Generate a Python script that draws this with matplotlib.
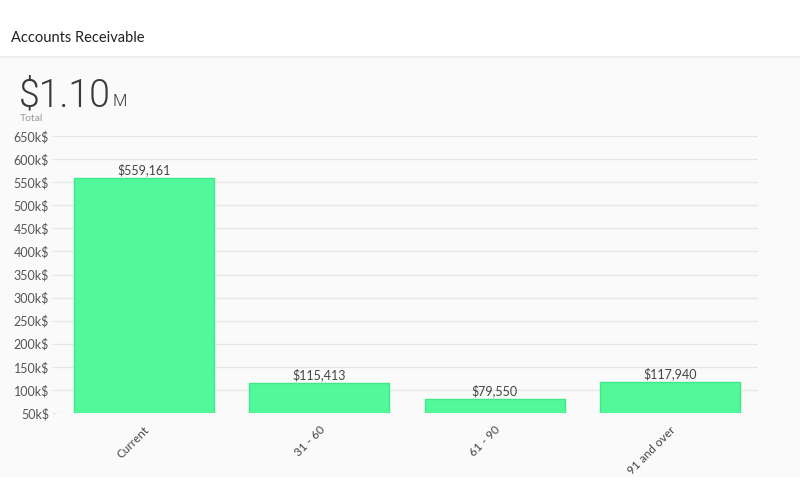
import matplotlib.pyplot as plt
import numpy as np
from matplotlib.patches import Rectangle

# Datos
categorias = ['Current', '31 - 60', '61 - 90', '91 and over']
valores = [559161, 115413, 79550, 117940]
ticks_y = list(range(50000, 650001, 50000))
total_txt = '$1.10'

plt.rcParams['font.family'] = ['Lato', 'DejaVu Sans']

fig = plt.figure(figsize=(8, 5), dpi=100)
fig.patch.set_facecolor('white')

# Fondo gris del panel y línea del encabezado
fig.add_artist(Rectangle((0, 0.046), 1, 0.84, transform=fig.transFigure,
                         facecolor='#fafafa', edgecolor='none', zorder=0))
fig.add_artist(plt.Line2D([0, 1], [0.886, 0.886], transform=fig.transFigure,
                          color='#ececec', lw=1.2))

fig.text(11 / 800, 1 - 42 / 500, 'Accounts Receivable', fontsize=10.5,
         color='#222222', va='baseline')
t = fig.text(19 / 800, 1 - 106 / 500, total_txt, fontsize=27, color='#3a3a3a',
             va='baseline', family=['Roboto', 'DejaVu Sans'], fontweight=300)
fig.canvas.draw()
bb = t.get_window_extent()
fig.text(bb.x1 / 800 + 0.002, 1 - 106 / 500, 'M', fontsize=12, color='#3a3a3a',
         va='baseline', family=['Roboto', 'DejaVu Sans'], fontweight=300)
fig.text(20 / 800, 1 - 121 / 500, 'Total', fontsize=7.5, color='#999999',
         va='baseline')

ax = fig.add_axes([56 / 800, 87 / 500, 702 / 800, 277 / 500])
ax.set_facecolor('none')

x = np.arange(len(categorias))
ax.bar(x, valores, width=0.8, color='#52f99a', edgecolor='#3fe88b',
       linewidth=1, zorder=3)

for xi, v in zip(x, valores):
    ax.text(xi, v + 4000, f'${v:,}', ha='center', va='bottom',
            fontsize=9, color='#444444', zorder=4)

ax.set_xlim(-0.5, 3.5)
ax.set_ylim(50000, 650000)
ax.set_yticks(ticks_y)
ax.set_yticklabels([f'{v // 1000}k$' for v in ticks_y])
ax.grid(axis='y', color='#e6e6e6', lw=1, zorder=0)
ax.set_xticks(x)
ax.set_xticklabels(categorias, rotation=45, ha='right', rotation_mode='anchor')

for s in ax.spines.values():
    s.set_visible(False)
ax.tick_params(axis='y', length=3, color='#e6e6e6', labelsize=9,
               labelcolor='#555555', pad=2)
ax.tick_params(axis='x', length=0, labelsize=8.5, labelcolor='#444444', pad=8)

fig.savefig('out.png', dpi=100, facecolor='white')
